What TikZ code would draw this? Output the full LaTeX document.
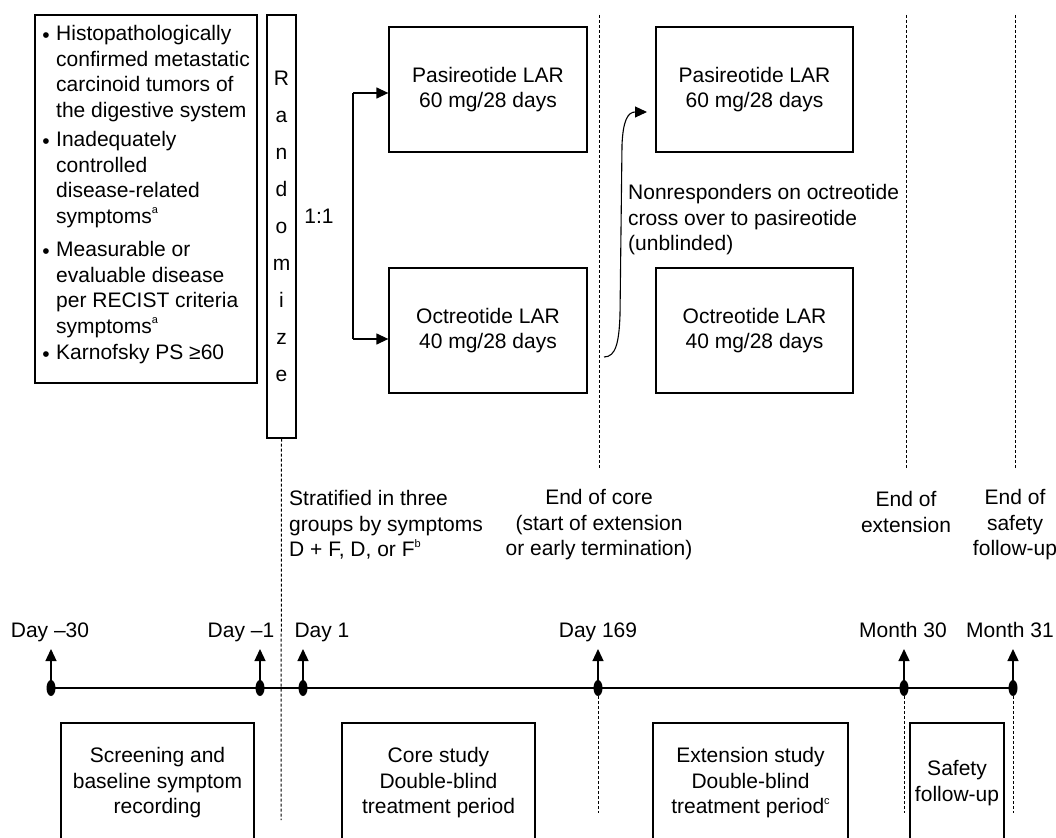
\documentclass[tikz,border=0pt]{standalone}
\usepackage{fontspec}
\setmainfont{Liberation Sans}
\usetikzlibrary{arrows.meta,shapes.geometric}
\newcommand\dfont{\fontsize{21}{25.5}\selectfont}
\newcommand\supmark[1]{\raisebox{0.45em}{\fontsize{11}{11}\selectfont #1}}
\begin{document}
\begin{tikzpicture}[x=1pt,y=-1pt,
 every node/.style={font=\dfont, inner sep=0pt},
 box/.style={draw, line width=1.3pt, align=center},
 dline/.style={line width=1pt, dash pattern=on 3pt off 2pt},
 conn/.style={line width=1.3pt},
 arr/.style={line width=1.3pt, -{Triangle[width=11pt,length=12pt]}},
 dot/.style={ellipse, fill=black, minimum width=9pt, minimum height=16pt, inner sep=0pt}]
\useasboundingbox (0,0) rectangle (1056,837);

% eligibility criteria box
\node[box, minimum width=222pt, minimum height=368pt] (crit) at (146,199) {};
\foreach \yy/\ltxt [count=\i] in {
  38/Histopathologically, 63.5/confirmed metastatic, 89/carcinoid tumors of, 114.5/the digestive system,
  144/Inadequately, 169.5/controlled, 195/disease-related, 220.5/symptoms\supmark{a},
  254/Measurable or, 279.5/evaluable disease, 305/per RECIST criteria, 330.5/symptoms\supmark{a},
  357/Karnofsky PS ≥60}
  \node[anchor=mid west] (cl\i) at (56,\yy) {\ltxt};
\foreach \yy [count=\i] in {38,144,254,357}
  \node (bul\i) at (46,\yy) {•};

% randomize
\node[box, minimum width=29pt, minimum height=423pt, font=\fontsize{21}{37}\selectfont] (rand) at (281.5,226.5) {R\\a\\n\\d\\o\\m\\i\\z\\e};

% treatment arms
\node[box, minimum width=198pt, minimum height=125pt] (pas1) at (488,89.5) {Pasireotide LAR\\60 mg/28 days};
\node[box, minimum width=198pt, minimum height=125pt] (oct1) at (488,330.5) {Octreotide LAR\\40 mg/28 days};
\node[box, minimum width=197pt, minimum height=125pt] (pas2) at (754.5,89.5) {Pasireotide LAR\\60 mg/28 days};
\node[box, minimum width=197pt, minimum height=125pt] (oct2) at (754.5,330.5) {Octreotide LAR\\40 mg/28 days};

% 1:1 bracket
\coordinate (bt) at (353,93);
\coordinate (bb) at (353,339);
\draw[conn] (bt) -- (bb);
\draw[arr] (bt) -- (bt -| pas1.west);
\draw[arr] (bb) -- (bb -| oct1.west);
\node (ratio) at (319,216) {1:1};

% crossover
\coordinate (cs) at (604,357);
\coordinate (ce) at (647,112);
\draw[line width=1.1pt, -{Triangle[width=11pt,length=12pt]}] (cs) .. controls (616,357) and (619,342) .. (620,315) -- (622,145) .. controls (623,120) and (628,112) .. (ce);
\node[align=left, anchor=west] (cross) at (628,220) {Nonresponders on octreotide\\cross over to pasireotide\\(unblinded)};

% vertical dashed lines (top)
\coordinate (v1t) at (599,15);  \coordinate (v1b) at (599,468);
\coordinate (v2t) at (906,15);  \coordinate (v2b) at (906,468);
\coordinate (v3t) at (1015,15); \coordinate (v3b) at (1015,468);
\coordinate (rb) at (281,820);
\draw[dline] (v1t) -- (v1b);
\draw[dline] (v2t) -- (v2b);
\draw[dline] (v3t) -- (v3b);
\draw[dline] (rand.south) -- (rb);

% milestone labels
\node[align=left, anchor=west] (strat) at (289,525) {Stratified in three\\groups by symptoms\\D + F, D, or F\supmark{b}};
\node[align=center] (endcore) at (599,525) {End of core\\(start of extension\\or early termination)};
\node[align=center] (endext) at (906,512) {End of\\extension};
\node[align=center] (endsafe) at (1015,525) {End of\\safety\\follow-up};

% timeline
\node[dot] (t1) at (51,688) {};
\node[dot] (t2) at (260,688) {};
\node[dot] (t3) at (303,688) {};
\node[dot] (t4) at (598,688) {};
\node[dot] (t5) at (904,688) {};
\node[dot] (t6) at (1013,688) {};
\draw[conn] (t1.center) -- (t6.center);
\foreach \i in {1,...,6}
  \draw[arr] (t\i.center) -- ++(0,-39);
\node[anchor=mid] (lab1) at (50,635) {Day –30};
\node[anchor=mid] (lab2) at (241,635) {Day –1};
\node[anchor=mid] (lab3) at (322,635) {Day 1};
\node[anchor=mid] (lab4) at (598,635) {Day 169};
\node[anchor=mid] (lab5) at (903,635) {Month 30};
\node[anchor=mid] (lab6) at (1010,635) {Month 31};

% dashed lines below timeline
\coordinate (d4) at (598,813);
\coordinate (d5) at (904,813);
\coordinate (d6) at (1013,813);
\draw[dline] (t4.south) -- (d4);
\draw[dline] (t5.south) -- (d5);
\draw[dline] (t6.south) -- (d6);

% period boxes
\node[box, minimum width=193pt, minimum height=120pt] (screen) at (157.5,783) {Screening and\\baseline symptom\\recording};
\node[box, minimum width=193pt, minimum height=120pt] (core) at (438.5,783) {Core study\\Double-blind\\treatment period};
\node[box, minimum width=195pt, minimum height=120pt] (ext) at (750.5,783) {Extension study\\Double-blind\\treatment period\supmark{c}};
\node[box, minimum width=94pt, minimum height=120pt] (safe) at (957,783) {Safety\\follow-up};
\end{tikzpicture}
\end{document}
